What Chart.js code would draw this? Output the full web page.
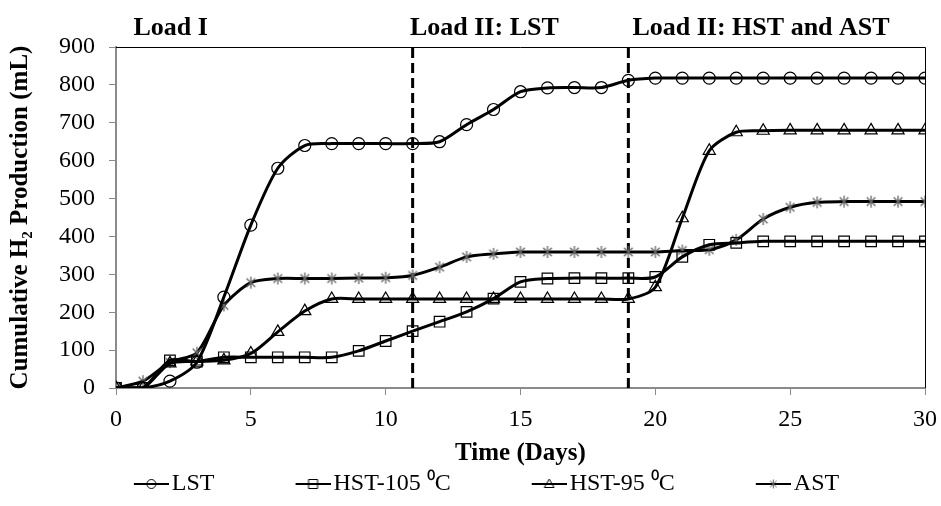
<!DOCTYPE html>
<html><head><meta charset="utf-8">
<script src="https://cdn.jsdelivr.net/npm/chart.js@4"></script>
<style>html,body{margin:0;padding:0;background:#fff}</style>
</head><body>
<canvas id="c" width="941" height="506"></canvas>
<script>
// ---- data ----
const days = [0,1,2,3,4,5,6,7,8,9,10,11,12,13,14,15,16,17,18,19,20,21,22,23,24,25,26,27,28,29,30];
const lst    = [0,0,18,68,240,430,580,640,645,645,645,645,650,695,735,782,792,793,793,812,818,818,818,818,818,818,818,818,818,818,818];
const hst105 = [0,0,73,70,81,81,81,81,81,98,124,150,175,201,236,280,289,290,290,290,293,346,378,383,387,387,387,387,387,387,387];
const hst95  = [0,0,65,70,73,91,148,203,235,235,235,235,235,235,235,235,235,235,235,235,266,448,626,675,679,680,680,680,680,680,680];
const ast    = [0,18,68,93,218,278,289,289,289,290,291,297,319,346,354,359,359,359,359,359,359,363,365,391,446,477,490,492,492,492,492];
const seriesNames = ['LST', 'HST-105 \u2070C', 'HST-95 \u2070C', 'AST'];
const phaseDays = [11, 19];
const loadLabels = ['Load I', 'Load II: LST', 'Load II: HST and AST'];
const loadLabelDays = [0.65, 10.9, 19.15];
const xTitle = 'Time (Days)';
const yTitle = 'Cumulative H\u2082 Production (mL)';

// ---- styling helpers ----
const SERIF = "'Liberation Serif', 'Times New Roman', serif";
const AXIS_GRAY = '#8a8a8a';
const STAR_GRAY = '#666666';

function starCanvas(size, color, lw) {
  const c = document.createElement('canvas');
  c.width = size; c.height = size;
  const g = c.getContext('2d');
  const m = size / 2, r = size / 2 - 1, d = r * 0.72;
  g.strokeStyle = color; g.lineWidth = lw;
  g.beginPath();
  g.moveTo(m, m - r); g.lineTo(m, m + r);
  g.moveTo(m - d, m - d); g.lineTo(m + d, m + d);
  g.moveTo(m + d, m - d); g.lineTo(m - d, m + d);
  g.stroke();
  return c;
}

const LEG_BOX = 74;
function legendIcon(kind) {
  const w = LEG_BOX + 18, h = 16;
  const c = document.createElement('canvas');
  c.width = w; c.height = h;
  const g = c.getContext('2d');
  const x0 = w - 35, cy = h / 2, cx = x0 + 17.5;
  g.strokeStyle = '#000'; g.lineWidth = 2.2;
  g.beginPath(); g.moveTo(x0, cy); g.lineTo(w, cy); g.stroke();
  g.lineWidth = 1;
  g.beginPath();
  if (kind === 'circle') {
    g.arc(cx, cy, 4.5, 0, Math.PI * 2); g.stroke();
  } else if (kind === 'rect') {
    g.rect(cx - 4.5, cy - 4.5, 9, 9); g.stroke();
  } else if (kind === 'triangle') {
    g.moveTo(cx, cy - 5); g.lineTo(cx + 4.8, cy + 3.5); g.lineTo(cx - 4.8, cy + 3.5); g.closePath(); g.stroke();
  } else {
    const s = starCanvas(11, STAR_GRAY, 1);
    g.drawImage(s, cx - 5.5, cy - 5.5);
  }
  return c;
}
const legendIcons = [legendIcon('circle'), legendIcon('rect'), legendIcon('triangle'), legendIcon('star')];
const plotStar = starCanvas(14, STAR_GRAY, 1.3);

function pts(vals) { return days.map((d, i) => ({ x: d, y: vals[i] })); }

const common = {
  borderColor: '#000', borderWidth: 3, tension: 0.27,
  pointBorderColor: '#000', pointBackgroundColor: 'rgba(0,0,0,0)', pointBorderWidth: 1.2,
  fill: false
};

const datasets = [
  Object.assign({}, common, { label: seriesNames[0], data: pts(lst), pointStyle: 'circle', pointRadius: 6 }),
  Object.assign({}, common, { label: seriesNames[1], data: pts(hst105), pointStyle: 'rect', pointRadius: 7.5 }),
  Object.assign({}, common, { label: seriesNames[2], data: pts(hst95), pointStyle: 'triangle', pointRadius: 7 }),
  Object.assign({}, common, { label: seriesNames[3], data: pts(ast), pointStyle: plotStar, pointRadius: 7 })
];
phaseDays.forEach(d => {
  datasets.push({
    label: 'phase', data: [{ x: d, y: 0 }, { x: d, y: 900 }],
    borderColor: '#000', borderWidth: 3, borderDash: [10, 5], pointRadius: 0, tension: 0, fill: false
  });
});

const framePlugin = {
  id: 'frame',
  beforeDatasetsDraw(chart) {
    const { ctx, chartArea: a } = chart;
    ctx.save();
    ctx.strokeStyle = '#000'; ctx.lineWidth = 1;
    ctx.beginPath();
    ctx.moveTo(a.left, a.top + 0.5); ctx.lineTo(a.right + 0.5, a.top + 0.5); ctx.lineTo(a.right + 0.5, a.bottom);
    ctx.stroke();
    ctx.restore();
  },
  afterDraw(chart) {
    const { ctx, chartArea: a } = chart;
    const xs = chart.scales.x;
    ctx.save();
    ctx.font = "bold 26px " + SERIF;
    ctx.fillStyle = '#000';
    ctx.textAlign = 'left';
    ctx.textBaseline = 'alphabetic';
    loadLabels.forEach((t, i) => ctx.fillText(t, xs.getPixelForValue(loadLabelDays[i]), a.top - 12));
    ctx.restore();
  }
};

new Chart(document.getElementById('c'), {
  type: 'line',
  data: { datasets },
  plugins: [framePlugin],
  options: {
    responsive: false, animation: false, devicePixelRatio: 1,
    layout: { padding: { top: 47, right: 16, left: 0, bottom: 0 } },
    plugins: {
      tooltip: { enabled: false },
      legend: {
        position: 'bottom', align: 'center',
        labels: {
          usePointStyle: true, pointStyleWidth: LEG_BOX, padding: 33,
          color: '#000', font: { family: SERIF, size: 24 },
          filter: (item) => item.datasetIndex < seriesNames.length,
          generateLabels(chart) {
            const items = Chart.defaults.plugins.legend.labels.generateLabels(chart);
            items.forEach(it => { if (it.datasetIndex < legendIcons.length) it.pointStyle = legendIcons[it.datasetIndex]; });
            return items;
          }
        }
      }
    },
    scales: {
      x: {
        type: 'linear', min: 0, max: 30,
        ticks: { stepSize: 5, color: '#000', font: { family: SERIF, size: 24, lineHeight: 1.75 }, padding: 4, maxRotation: 0 },
        grid: { display: true, drawOnChartArea: false, drawTicks: true, tickLength: 7, color: AXIS_GRAY, lineWidth: 1 },
        border: { display: true, color: AXIS_GRAY, width: 2 },
        title: { display: true, text: xTitle, color: '#000', font: { family: SERIF, size: 25, weight: 'bold' }, padding: { top: 0, bottom: -30 } },
        afterFit(s) { s.height = 51; }
      },
      y: {
        min: 0, max: 900,
        ticks: { stepSize: 100, color: '#000', font: { family: SERIF, size: 24 }, padding: 14 },
        grid: { display: true, drawOnChartArea: false, drawTicks: true, tickLength: 7, color: AXIS_GRAY, lineWidth: 1 },
        border: { display: true, color: AXIS_GRAY, width: 2 },
        title: { display: true, text: yTitle, color: '#000', font: { family: SERIF, size: 25, weight: 'bold' }, padding: { top: 6, bottom: 0 } },
        afterFit(s) { s.width = 116; }
      }
    }
  }
});
</script>
</body></html>
